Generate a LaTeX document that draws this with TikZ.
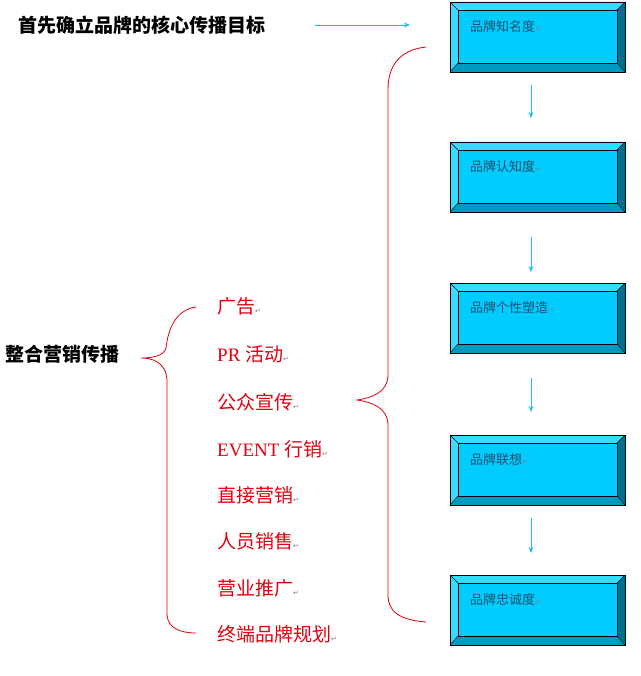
\documentclass[tikz,border=0pt]{standalone}
\usepackage{fontspec}
\setmainfont{Liberation Serif}
\newfontfamily\cjk{Noto Sans CJK SC}
\newfontfamily\dv{DejaVu Sans}
\usetikzlibrary{arrows.meta}
\definecolor{face}{HTML}{00CCFF}
\definecolor{lite}{HTML}{33DDFF}
\definecolor{dark}{HTML}{006E8C}
\definecolor{mid}{HTML}{0099BF}
\definecolor{txt}{HTML}{1A4F6E}
\definecolor{rd}{HTML}{E00010}
\definecolor{ar}{HTML}{22BBEE}
\newcommand{\parmk}{{\dv\color{gray}\fontsize{7}{7}\selectfont ↵}}
\tikzset{x=1pt,y=-1pt,
 item/.style={anchor=west,text=rd,font=\fontsize{19}{19}\selectfont,inner sep=0pt},
 boxtxt/.style={anchor=west,text=txt,font=\cjk\fontsize{13}{13}\selectfont,inner sep=0pt},
 flow/.style={draw=ar,line width=1pt,-{Stealth[length=6pt,width=5pt]}},
 brace/.style={draw=rd,line width=0.8pt}}
\newcommand{\bbox}[3]{%
 \fill[lite] (450,#1) -- (625,#1) -- (617,#1+8) -- (458,#1+8) -- cycle;
 \fill[lite] (450,#1) -- (458,#1+8) -- (458,#1+61) -- (450,#1+70) -- cycle;
 \fill[dark] (625,#1) -- (625,#1+70) -- (617,#1+61) -- (617,#1+8) -- cycle;
 \fill[mid] (450,#1+70) -- (625,#1+70) -- (617,#1+61) -- (458,#1+61) -- cycle;
 \fill[face] (458,#1+8) rectangle (617,#1+61);
 \draw[black,line width=0.6pt] (450,#1) rectangle (625,#1+70);
 \draw[black,line width=0.6pt] (458,#1+8) rectangle (617,#1+61);
 \draw[black,line width=0.4pt] (450,#1)--(458,#1+8) (625,#1)--(617,#1+8) (450,#1+70)--(458,#1+61) (625,#1+70)--(617,#1+61);
 \node[boxtxt] (#2) at (470,#1+25) {#3\parmk};}
\begin{document}
\begin{tikzpicture}
\useasboundingbox[fill=white] (0,0) rectangle (640,676);
\bbox{2}{b1}{品牌知名度}
\bbox{142}{b2}{品牌认知度}
\bbox{283}{b3}{品牌个性塑造}
\bbox{435}{b4}{品牌联想}
\bbox{575}{b5}{品牌忠诚度}
\coordinate (a1s) at (531,85); \coordinate (a1e) at (531,118);
\coordinate (a2s) at (531,237); \coordinate (a2e) at (531,272);
\coordinate (a3s) at (531,378); \coordinate (a3e) at (531,412);
\coordinate (a4s) at (531,518); \coordinate (a4e) at (531,553);
\draw[flow] (a1s)--(a1e); \draw[flow] (a2s)--(a2e);
\draw[flow] (a3s)--(a3e); \draw[flow] (a4s)--(a4e);
\node[anchor=west,inner sep=0pt,font=\cjk\bfseries\fontsize{19}{19}\selectfont] (title) at (18,25) {首先确立品牌的核心传播目标};
\coordinate (te) at (410,25);
\draw[flow,line width=0.8pt] (315,25) -- (te);
\node[anchor=west,inner sep=0pt,font=\cjk\bfseries\fontsize{19}{19}\selectfont] (zh) at (5,354) {整合营销传播};
\node[item] (i1) at (217,306) {\cjk 广告\parmk};
\node[item] (i2) at (217,354) {PR {\cjk 活动}\parmk};
\node[item] (i3) at (217,402) {\cjk 公众宣传\parmk};
\node[item] (i4) at (217,449) {EVENT {\cjk 行销}\parmk};
\node[item] (i5) at (217,495) {\cjk 直接营销\parmk};
\node[item] (i6) at (217,541) {\cjk 人员销售\parmk};
\node[item] (i7) at (217,588) {\cjk 营业推广\parmk};
\node[item] (i8) at (217,634) {\cjk 终端品牌规划\parmk};
\coordinate (lt) at (196,307); \coordinate (lb) at (196,633); \coordinate (lp) at (141,358);
\draw[brace] (lt) .. controls (175,310) and (168,330) .. (166,348) .. controls (164,356) and (152,358) .. (lp)
 .. controls (152,358) and (166,362) .. (167,380) -- (167,615) .. controls (168,628) and (180,633) .. (lb);
\coordinate (rt) at (426,47); \coordinate (rb) at (426,622); \coordinate (rp) at (357,400);
\draw[brace] (rt) .. controls (400,50) and (388,65) .. (388,90) -- (388,375) .. controls (388,392) and (372,398) .. (rp)
 .. controls (372,402) and (388,408) .. (388,425) -- (388,595) .. controls (388,612) and (400,620) .. (rb);
\end{tikzpicture}
\end{document}
